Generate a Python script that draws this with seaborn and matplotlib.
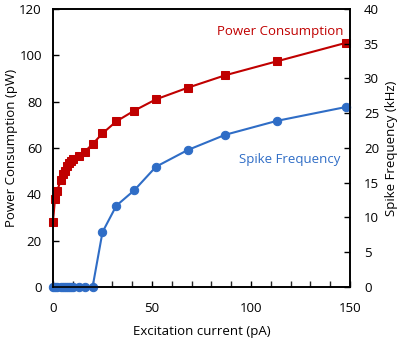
import matplotlib
matplotlib.use("Agg")
import matplotlib.pyplot as plt
import pandas as pd
import seaborn as sns
from matplotlib.ticker import MultipleLocator

# Data
current = [0, 1, 2, 4, 5, 6, 7, 8, 9, 10, 13, 16, 20, 25, 32, 41, 52, 68, 87, 113, 148]
power = [28.2, 37.9, 41.3, 46.2, 48.8, 50.2, 52.2, 53.4, 54.5, 55.3, 56.7, 58.4,
         61.7, 66.3, 71.5, 76.1, 81.0, 86.0, 91.4, 97.4, 105.4]
spike = [0, 0, 0, 0, 0, 0, 0, 0, 0, 0, 0, 0, 0,
         7.9, 11.7, 13.9, 17.3, 19.7, 21.9, 23.9, 25.9]

df = pd.DataFrame({"current": current, "power": power, "spike": spike})

red = "#C00000"
blue = "#2F6DC6"

sns.set_style("ticks")
plt.rcParams["font.family"] = ["Open Sans", "DejaVu Sans"]
plt.rcParams["font.size"] = 9.5
plt.rcParams["text.color"] = "black"
plt.rcParams["axes.labelcolor"] = "black"

fig = plt.figure(figsize=(4.03, 3.4), dpi=100)
ax = fig.add_axes([0.1315, 0.156, 0.737, 0.8175])
ax2 = ax.twinx()

sns.lineplot(data=df, x="current", y="power", ax=ax, color=red, marker="s",
             markersize=5.5, markeredgecolor=red, linewidth=1.5, clip_on=False)
sns.lineplot(data=df, x="current", y="spike", ax=ax2, color=blue, marker="o",
             markersize=6, markeredgecolor=blue, linewidth=1.5, clip_on=False)

ax.set_xlim(0, 150)
ax.set_ylim(0, 120)
ax2.set_ylim(0, 40)
ax.xaxis.set_major_locator(MultipleLocator(50))
ax.xaxis.set_minor_locator(MultipleLocator(10))
ax.yaxis.set_major_locator(MultipleLocator(20))
ax2.yaxis.set_major_locator(MultipleLocator(5))

for a in (ax, ax2):
    a.tick_params(direction="in", length=4, width=1, colors="black", labelsize=9.5, pad=8)
    a.tick_params(which="minor", direction="in", length=4, width=1)
    for s in a.spines.values():
        s.set_linewidth(1.2)
        s.set_color("black")
ax.tick_params(axis="x", pad=11)
ax2.tick_params(axis="y", pad=10)

ax.set_xlabel("Excitation current (pA)", fontsize=9.5, labelpad=7)
ax.set_ylabel("Power Consumption (pW)", fontsize=9.5, labelpad=1)
ax2.set_ylabel("Spike Frequency (kHz)", fontsize=9.5, labelpad=4)

ax.text(0.766, 0.92, "Power Consumption", transform=ax.transAxes, color=red,
        fontsize=9.5, ha="center", va="center")
ax.text(0.797, 0.457, "Spike Frequency", transform=ax.transAxes, color=blue,
        fontsize=9.5, ha="center", va="center")

fig.savefig("out.png", dpi=100)
